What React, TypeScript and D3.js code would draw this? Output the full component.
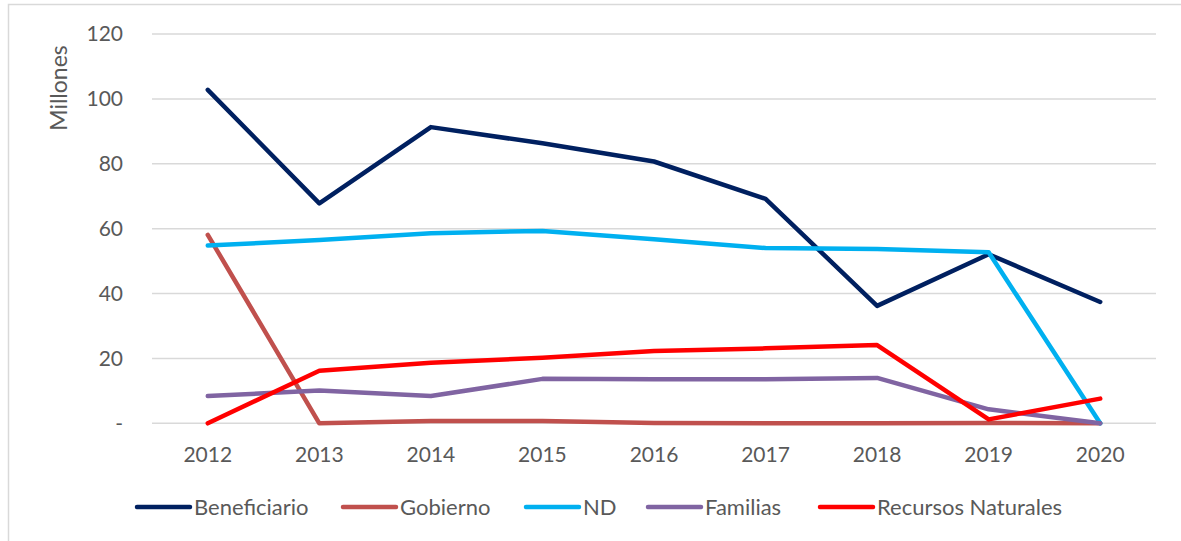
import React from 'react'
import * as d3 from 'd3'

const years = ['2012', '2013', '2014', '2015', '2016', '2017', '2018', '2019', '2020']
const beneficiario = [102.8, 67.8, 91.3, 86.3, 80.7, 69.2, 36.2, 52.1, 37.4]
const gobierno = [58.1, 0, 0.7, 0.7, 0.1, 0, 0, 0.1, 0]
const nd = [54.8, 56.5, 58.6, 59.3, 56.7, 54.0, 53.7, 52.7, 0]
const familias = [8.4, 10.1, 8.4, 13.7, 13.6, 13.6, 14.0, 4.3, 0]
const recursos = [0, 16.2, 18.7, 20.2, 22.3, 23.1, 24.1, 1.2, 7.6]
const yTicks = [0, 20, 40, 60, 80, 100, 120]

const seriesNames = ['Beneficiario', 'Gobierno', 'ND', 'Familias', 'Recursos Naturales']
const seriesValues = [beneficiario, gobierno, nd, familias, recursos]
const colors = ['#002060', '#C0504D', '#00B0F0', '#8064A2', '#FF0000']
// legend swatch starts (x) for each entry
const legendX = [137, 343, 526, 648, 820]

const W = 1181
const H = 541
const font = 'Lato, "Open Sans", sans-serif'
const textColor = '#595959'

const App = () => {
    const x = d3.scalePoint<string>().domain(years).range([152, 1156]).padding(0.5)
    const y = d3.scaleLinear().domain([0, 120]).range([423.3, 34])
    const line = d3.line<number>()
        .x((_, i) => x(years[i]) as number)
        .y(d => y(d))

    return (
        <svg width={W} height={H} style={{ position: 'absolute', left: 0, top: 0, background: '#fff' }}>
            <rect x={8.5} y={4.5} width={W} height={H} fill='#fff' stroke='#d9d9d9' strokeWidth={1.5} />
            {yTicks.map(t => (
                <g key={t}>
                    <line x1={152} x2={1156} y1={y(t)} y2={y(t)} stroke='#d9d9d9' strokeWidth={1.5} />
                    <text x={123} y={y(t)} dy='0.35em' textAnchor='end' fontFamily={font} fontSize={21} fill={textColor}>
                        {t === 0 ? '-' : t}
                    </text>
                </g>
            ))}
            <text transform='translate(67,88) rotate(-90)' textAnchor='middle' fontFamily={font} fontSize={23} fill={textColor}>
                Millones
            </text>
            {years.map(yr => (
                <text key={yr} x={x(yr)} y={462} textAnchor='middle' fontFamily={font} fontSize={21} fill={textColor}>
                    {yr}
                </text>
            ))}
            {seriesValues.map((vals, i) => (
                <path key={seriesNames[i]} d={line(vals) || ''} fill='none' stroke={colors[i]} strokeWidth={4.5}
                    strokeLinejoin='round' strokeLinecap='round' />
            ))}
            {seriesNames.map((name, i) => (
                <g key={name} transform={`translate(${legendX[i]},507)`}>
                    <line x1={0} x2={53} y1={0} y2={0} stroke={colors[i]} strokeWidth={4.5} strokeLinecap='round' />
                    <text x={57} dy='0.35em' fontFamily={font} fontSize={22} fill={textColor}>{name}</text>
                </g>
            ))}
        </svg>
    )
}

export default App
